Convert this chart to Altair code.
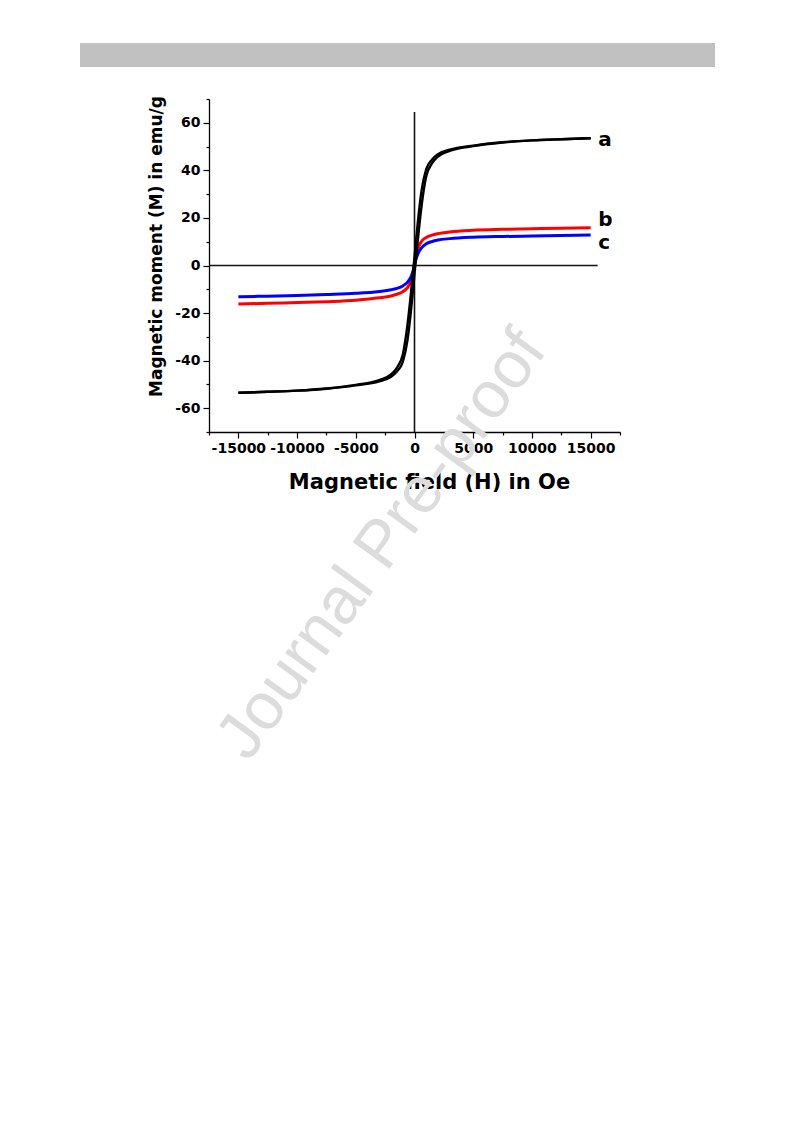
import altair as alt
import pandas as pd

# ---- data ----
H = [-15000, -12500, -10000, -7500, -5000, -3000, -2000, -1500, -1000, -600, -300, -150,
     0, 150, 300, 600, 1000, 1500, 2000, 3000, 5000, 7500, 10000, 12500, 15000]

# sample a (black), two branches of the narrow loop
a_upper = [-53.5, -53.1, -52.6, -51.7, -50.2, -48.2, -45.8, -43.0, -37.5, -25.0, -11.5, -4.0,
           3.5, 11.5, 19.0, 31.5, 40.5, 44.6, 46.8, 48.7, 50.4, 51.8, 52.6, 53.1, 53.5]
a_lower = [-53.5, -53.1, -52.6, -51.8, -50.4, -48.7, -46.8, -44.6, -40.5, -31.5, -19.0, -11.5,
           -3.5, 4.0, 11.5, 25.0, 37.5, 43.0, 45.8, 48.2, 50.2, 51.7, 52.6, 53.1, 53.5]
# sample b (red)
b_vals = [-16.2, -15.9, -15.6, -15.2, -14.6, -13.6, -12.8, -12.1, -11.0, -9.3, -6.5, -3.8,
          0.5, 4.5, 7.2, 10.2, 11.8, 12.8, 13.4, 14.1, 14.8, 15.2, 15.5, 15.7, 15.9]
# sample c (blue)
c_vals = [-13.1, -12.9, -12.6, -12.2, -11.7, -10.9, -10.2, -9.6, -8.6, -7.0, -4.8, -2.7,
          0.3, 3.0, 5.0, 7.4, 9.1, 10.1, 10.7, 11.3, 11.9, 12.2, 12.4, 12.6, 12.8]

series_names = ["a", "b", "c"]
series_colors = ["#000000", "#ff0000", "#0000ff"]
label_H = [15650, 15650, 15650]
label_M = [52.9, 19.2, 9.6]

x_major = [-15000, -10000, -5000, 0, 5000, 10000, 15000]
x_minor = [-17500, -12500, -7500, -2500, 2500, 7500, 12500, 17500]
y_major = [-60, -40, -20, 0, 20, 40, 60]
y_minor = [-70, -50, -30, -10, 10, 30, 50, 70]

zero_h = {"x": [-17500], "x2": [15600], "y": [0]}
zero_v = {"x": [0], "y": [-70], "y2": [64.5]}

watermark_text = ["Journal Pre-proof"]

# ---- tables ----
rows = []
for name, branch, vals in [("b", "b1", b_vals), ("c", "c1", c_vals),
                           ("a", "a1", a_upper), ("a", "a2", a_lower)]:
    for i, (h, m) in enumerate(zip(H, vals)):
        rows.append({"H": h, "M": m, "series": name, "branch": branch, "i": i})
df = pd.DataFrame(rows)

lab_df = pd.DataFrame({"H": label_H, "M": label_M, "series": series_names})

FONT = "DejaVu Sans"

xscale = alt.Scale(domain=[-17500, 17500], nice=False, zero=False)
yscale = alt.Scale(domain=[-70, 70], nice=False, zero=False)

x_axis = alt.Axis(
    orient="bottom", values=x_major, labelExpr="'' + datum.value",
    tickSize=6,
    labelFont=FONT, labelFontWeight="bold", labelFontSize=14, labelColor="black",
    labelPadding=3, labelFlush=False, labelOverlap=False,
    domainColor="black", domainWidth=1.3, tickColor="black", tickWidth=1.2,
    grid=False,
    title="Magnetic field (H) in Oe", titleFont=FONT, titleFontWeight="bold",
    titleFontSize=21, titleColor="black", titleX=220, titleY=50,
    titleAlign="center", titleBaseline="middle",
)
y_axis = alt.Axis(
    orient="left", values=y_major, labelExpr="'' + datum.value",
    tickSize=6,
    labelFont=FONT, labelFontWeight="bold", labelFontSize=14, labelColor="black",
    labelPadding=3, labelFlush=False, labelOverlap=False,
    domainColor="black", domainWidth=1.3, tickColor="black", tickWidth=1.2,
    grid=False,
    title="Magnetic moment (M) in emu/g", titleFont=FONT, titleFontWeight="bold",
    titleFontSize=17, titleColor="black", titleX=-53, titleY=147,
    titleAlign="center", titleBaseline="middle", titleAngle=270,
)
x_axis_minor = alt.Axis(
    orient="bottom", values=x_minor, tickSize=3, labels=False, domain=False, grid=False,
    title="", tickColor="black", tickWidth=1.2)
y_axis_minor = alt.Axis(
    orient="left", values=y_minor, tickSize=3, labels=False, domain=False, grid=False,
    title="", tickColor="black", tickWidth=1.2)

color_scale = alt.Scale(domain=series_names, range=series_colors)

hline = alt.Chart(pd.DataFrame(zero_h)).mark_rule(color="#111111", strokeWidth=1.3).encode(
    x=alt.X("x:Q", scale=xscale, axis=x_axis),
    x2="x2:Q",
    y=alt.Y("y:Q", scale=yscale, axis=y_axis),
)
vline = alt.Chart(pd.DataFrame(zero_v)).mark_rule(color="#111111", strokeWidth=1.6).encode(
    x=alt.X("x:Q", scale=xscale, axis=x_axis_minor),
    y=alt.Y("y:Q", scale=yscale, axis=y_axis_minor),
    y2="y2:Q",
)

lines = alt.Chart(df).mark_line(interpolate="monotone").encode(
    x=alt.X("H:Q", scale=xscale, axis=None),
    y=alt.Y("M:Q", scale=yscale, axis=None),
    color=alt.Color("series:N", scale=color_scale, legend=None),
    strokeWidth=alt.condition("datum.series === 'a'", alt.value(2.4), alt.value(3)),
    detail="branch:N",
    order="i:Q",
)

labels = alt.Chart(lab_df).mark_text(
    align="left", baseline="middle", font=FONT, fontWeight="bold", fontSize=20, color="black"
).encode(
    x=alt.X("H:Q", scale=xscale, axis=None),
    y=alt.Y("M:Q", scale=yscale, axis=None),
    text="series:N",
)

header = alt.Chart(pd.DataFrame({"k": [0]})).mark_rect(color="#c0c1c0").encode(
    x=alt.value(-129), x2=alt.value(506), y=alt.value(-56), y2=alt.value(-32)
)

watermark = alt.Chart(pd.DataFrame({"t": watermark_text})).mark_text(
    font="Liberation Sans", fontSize=66, color="#dcdcdc", angle=306,
    align="center", baseline="middle"
).encode(
    x=alt.value(173), y=alt.value(446), text="t:N"
)

chart = alt.layer(hline, vline, lines, labels, header, watermark).resolve_axis(
    x="independent", y="independent"
).properties(
    width=411, height=333,
    padding={"left": 201, "top": 91, "right": 150, "bottom": 500},
    autosize=alt.AutoSizeParams(type="none"),
    background="white",
).configure_view(strokeWidth=0)

chart.save("out.html", embed_options={"renderer": "svg", "actions": False})
